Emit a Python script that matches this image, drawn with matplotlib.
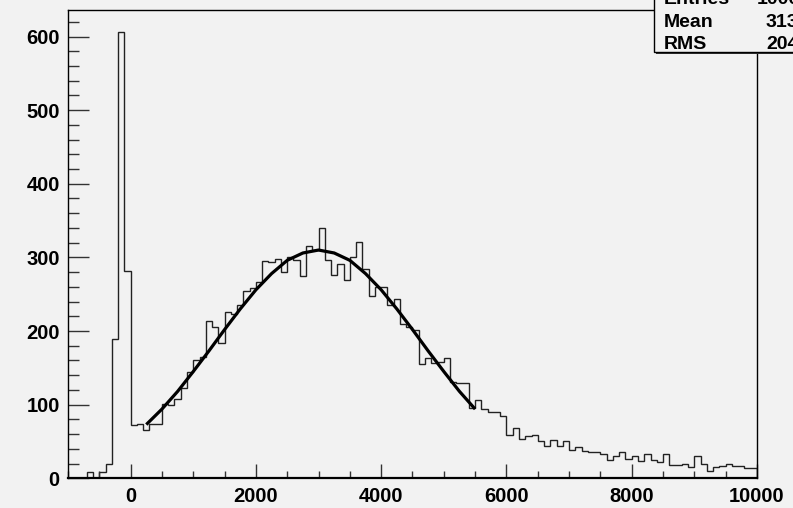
from matplotlib import pyplot as plt
from matplotlib.patches import Rectangle
from matplotlib.ticker import MultipleLocator
import numpy as np

# histogram binning, 110 bins of 100 between -1000 and 10000
x_min, x_max, bin_width = -1000.0, 10000.0, 100.0
y_max = 636.0

counts = [
    0, 0, 0, 8, 1, 8, 20, 189, 606, 281,
    72, 74, 66, 74, 74, 101, 100, 108, 123, 145,
    160, 165, 214, 206, 184, 226, 223, 236, 255, 258,
    266, 295, 294, 298, 280, 300, 296, 275, 315, 310,
    340, 296, 276, 291, 269, 300, 321, 284, 247, 260,
    260, 235, 243, 209, 205, 202, 155, 164, 156, 158,
    163, 131, 130, 129, 95, 107, 94, 90, 90, 84,
    59, 68, 53, 57, 59, 51, 44, 52, 44, 51,
    38, 42, 37, 36, 36, 33, 25, 30, 36, 26,
    30, 24, 33, 25, 22, 33, 18, 18, 19, 15,
    30, 19, 10, 15, 17, 19, 17, 17, 14, 14,
]

# gaussian fit curve
fit_x = [250, 500, 750, 1000, 1250, 1500, 1750, 2000, 2250, 2500, 2750,
         3000, 3250, 3500, 3750, 4000, 4250, 4500, 4750, 5000, 5250, 5500]
fit_y = [73, 94, 118, 145, 173, 202, 230, 256, 278, 296, 306,
         310, 306, 296, 278, 256, 230, 202, 173, 145, 118, 94]

stats_labels = ["Entries", "Mean", "RMS"]
stats_values = ["10000", "3135", "2046"]
stats_value_px = [757, 766, 766]

BG = "#f2f2f2"
FONT = ["Liberation Sans", "DejaVu Sans"]
W, H = 793, 508


def fx(px: float) -> float:
    return px / W


def fy(py: float) -> float:
    return 1.0 - py / H


plt.rcParams["font.family"] = FONT
plt.rcParams["font.weight"] = "bold"

fig = plt.figure(figsize=(W / 100, H / 100), dpi=100, facecolor=BG)
ax = fig.add_axes((fx(68), fy(478.3), fx(757) - fx(68), fy(10) - fy(478.3)))
ax.set_facecolor(BG)

edges = x_min + bin_width * np.arange(len(counts) + 1)
ax.stairs(counts, edges, color="#222222", linewidth=1.0)
ax.plot(fit_x, fit_y, color="black", linewidth=2.3, solid_capstyle="butt")

ax.set_xlim(x_min, x_max)
ax.set_ylim(0, y_max)

ax.xaxis.set_major_locator(MultipleLocator(2000))
ax.xaxis.set_minor_locator(MultipleLocator(500))
ax.yaxis.set_major_locator(MultipleLocator(100))
ax.yaxis.set_minor_locator(MultipleLocator(20))

ax.tick_params(axis="both", which="both", direction="in", color="#333333",
               width=1.0, top=False, right=False, labelsize=14.5)
ax.tick_params(axis="x", which="major", length=10, pad=6)
ax.tick_params(axis="x", which="minor", length=5)
ax.tick_params(axis="y", which="major", length=15, pad=6)
ax.tick_params(axis="y", which="minor", length=8)
for lab in ax.get_xticklabels() + ax.get_yticklabels():
    lab.set_fontweight("bold")

for side, spine in ax.spines.items():
    spine.set_color("black")
    spine.set_linewidth(1.6 if side == "bottom" else 1.0)

# stats box, partly outside the canvas like the original
shadow = Rectangle((fx(656), fy(54)), 0.3, 0.3, transform=fig.transFigure,
                   facecolor="#333333", edgecolor="none", zorder=5)
box = Rectangle((fx(654), fy(51.7)), 0.3, 0.3, transform=fig.transFigure,
                facecolor=BG, edgecolor="black", linewidth=1.0, zorder=6)
fig.add_artist(shadow)
fig.add_artist(box)

for i, (name, value) in enumerate(zip(stats_labels, stats_values)):
    base = 4.1 + 22.6 * i
    fig.text(fx(664), fy(base), name, fontsize=14, fontweight="bold",
             va="baseline", ha="left", zorder=7)
    fig.text(fx(stats_value_px[i]), fy(base), value, fontsize=14,
             fontweight="bold", va="baseline", ha="left", zorder=7)

fig.savefig("out.png", dpi=100, facecolor=BG)
